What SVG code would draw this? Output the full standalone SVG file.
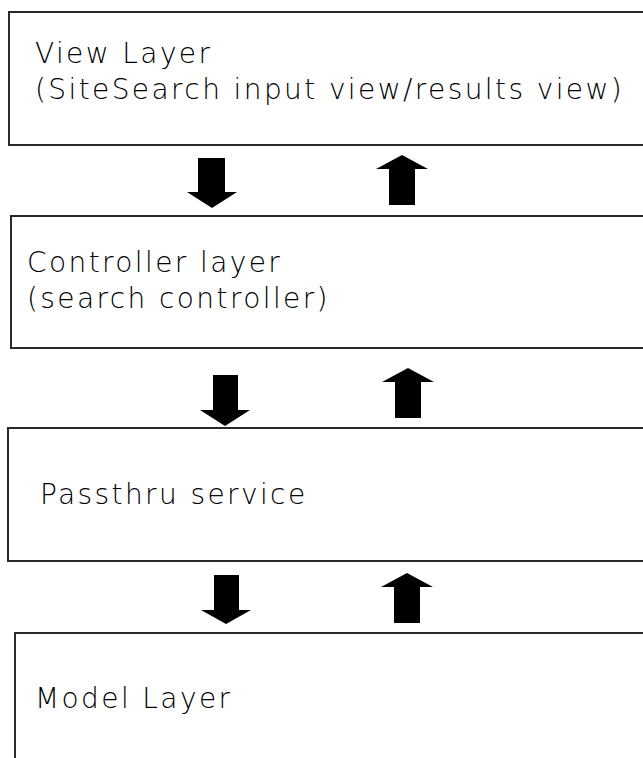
<svg xmlns="http://www.w3.org/2000/svg" width="643" height="758" viewBox="0 0 643 758">
<style>
.box{fill:#fff;stroke:#2a2a2a;stroke-width:2}
.lbl{font-family:"DejaVu Sans","Liberation Sans",sans-serif;font-weight:200;font-size:28px;letter-spacing:2.4px;fill:#000}
.arr{fill:#000}
</style>
<rect x="0" y="0" width="643" height="758" fill="#fff"/>
<g id="view-layer">
<rect class="box" x="9" y="12" width="660" height="133"/>
<text class="lbl" x="35" y="63">View Layer</text>
<text class="lbl" x="35" y="99">(SiteSearch input view/results view)</text>
</g>
<g id="controller-layer">
<rect class="box" x="11" y="216" width="660" height="132"/>
<text class="lbl" x="27" y="272">Controller layer</text>
<text class="lbl" x="27" y="308">(search controller)</text>
</g>
<g id="passthru-service">
<rect class="box" x="8" y="428" width="660" height="133"/>
<text class="lbl" x="40" y="504">Passthru service</text>
</g>
<g id="model-layer">
<rect class="box" x="15" y="633" width="660" height="140"/>
<text class="lbl" x="35" y="708">Model Layer</text>
</g>
<g id="connectors">
<polygon class="arr" points="198,158 225,158 225,192 237,192 212,208 187,192 198,192"/>
<polygon class="arr" points="402,155 428,169 415,169 415,205 389,205 389,169 376,169"/>
<polygon class="arr" points="213,375 238,375 238,410 250,410 225,426 200,410 213,410"/>
<polygon class="arr" points="408,368 434,382 421,382 421,418 395,418 395,382 382,382"/>
<polygon class="arr" points="214,575 239,575 239,610 251,610 226,624 201,610 214,610"/>
<polygon class="arr" points="407,573 433,587 420,587 420,623 394,623 394,587 381,587"/>
</g>
</svg>
